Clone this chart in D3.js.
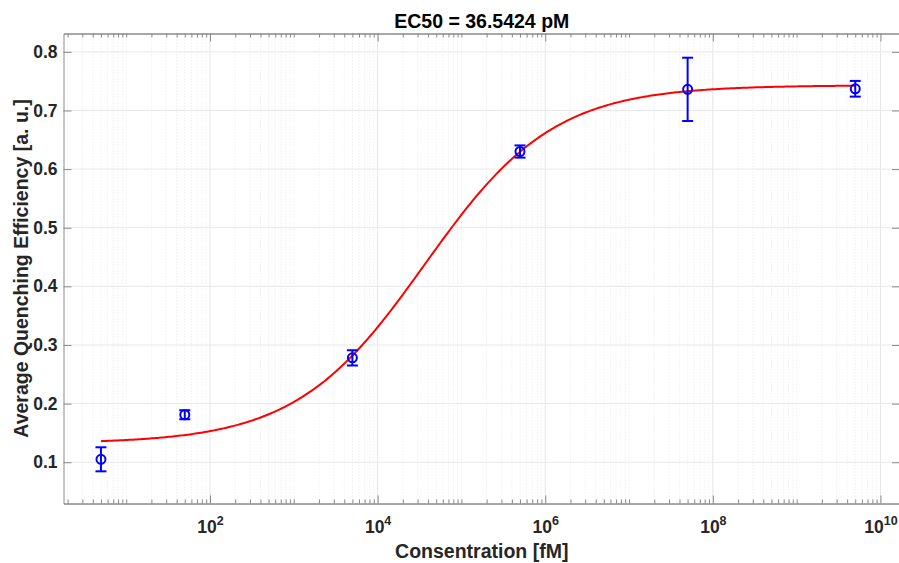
<!DOCTYPE html>
<html>
<head>
<meta charset="utf-8">
<script src="https://cdn.jsdelivr.net/npm/d3@7"></script>
<style>
  html, body { margin: 0; padding: 0; background: #fff; }
  svg { display: block; }
  text { font-family: "Liberation Sans", Arial, Helvetica, sans-serif; }
</style>
</head>
<body>
<svg id="chart" width="899" height="563"></svg>
<script>
// Measured dose-response points (concentration in fM)
const concentration = [5, 50, 5e3, 5e5, 5e7, 5e9];
const meanEfficiency = [0.105, 0.181, 0.278, 0.630, 0.736, 0.737];
const errEfficiency = [0.0205, 0.0077, 0.0130, 0.0104, 0.054, 0.0134];

// Four-parameter logistic fit
const fitBottom = 0.132;
const fitTop = 0.743;
const fitEC50 = 36542.4;   // fM  (36.5424 pM)
const fitHill = 0.565;

// Axis ticks
const yTicks = [0.1, 0.2, 0.3, 0.4, 0.5, 0.6, 0.7, 0.8];
const xMajorExp = [2, 4, 6, 8, 10];

const titleText = "EC50 = " + (fitEC50 / 1000).toFixed(4) + " pM";
const xLabelText = "Consentration [fM]";
const yLabelText = "Average Quenching Efficiency [a. u.]";

(function draw() {
  const svg = d3.select("#chart");
  const pLeft = 63.5, pRight = 900, pTop = 33.5, pBottom = 503.5;

  const x = d3.scaleLog()
    .domain([Math.pow(10, 0.252), Math.pow(10, 10.233)])
    .range([pLeft, pRight]);
  const y = d3.scaleLinear()
    .domain([0.0296, 0.8313])
    .range([pBottom, pTop]);

  // major / minor log tick positions
  const xMajor = xMajorExp.map(e => Math.pow(10, e));
  const xMinor = [];
  for (let e = 0; e <= 10; e++) {
    for (let m = 1; m <= 9; m++) {
      const v = m * Math.pow(10, e);
      if (v < x.domain()[0] || v > x.domain()[1]) continue;
      if (m === 1 && e % 2 === 0) continue;
      xMinor.push(v);
    }
  }

  // grid
  const grid = svg.append("g");
  grid.selectAll("line.minor").data(xMinor).join("line")
    .attr("class", "minor")
    .attr("x1", d => x(d)).attr("x2", d => x(d))
    .attr("y1", pTop).attr("y2", pBottom)
    .attr("stroke", "#e2e2e2").attr("stroke-width", 0.8)
    .attr("stroke-dasharray", "1,2");
  grid.selectAll("line.majx").data(xMajor).join("line")
    .attr("class", "majx")
    .attr("x1", d => x(d)).attr("x2", d => x(d))
    .attr("y1", pTop).attr("y2", pBottom)
    .attr("stroke", "#e6e6e6").attr("stroke-width", 1);
  grid.selectAll("line.majy").data(yTicks).join("line")
    .attr("class", "majy")
    .attr("x1", pLeft).attr("x2", pRight)
    .attr("y1", d => y(d)).attr("y2", d => y(d))
    .attr("stroke", "#e8e8e8").attr("stroke-width", 1);

  // axes
  const axisColor = "#8a8a8a";
  function styleAxis(g) {
    g.selectAll("path.domain").attr("stroke", axisColor);
    g.selectAll(".tick line").attr("stroke", axisColor);
  }
  const gBottom = svg.append("g").attr("transform", `translate(0,${pBottom})`)
    .call(d3.axisBottom(x).tickValues(xMajor).tickSize(-8).tickSizeOuter(0).tickFormat(""))
    .call(styleAxis);
  svg.append("g").attr("transform", `translate(0,${pBottom})`)
    .call(d3.axisBottom(x).tickValues(xMinor).tickSize(-4).tickSizeOuter(0).tickFormat(""))
    .call(styleAxis);
  svg.append("g").attr("transform", `translate(0,${pTop})`)
    .call(d3.axisTop(x).tickValues(xMajor).tickSize(-8).tickSizeOuter(0).tickFormat(""))
    .call(styleAxis);
  svg.append("g").attr("transform", `translate(0,${pTop})`)
    .call(d3.axisTop(x).tickValues(xMinor).tickSize(-4).tickSizeOuter(0).tickFormat(""))
    .call(styleAxis);
  const gLeft = svg.append("g").attr("transform", `translate(${pLeft},0)`)
    .call(d3.axisLeft(y).tickValues(yTicks).tickSize(-8).tickSizeOuter(0).tickPadding(6).tickFormat(d3.format(".1f")))
    .call(styleAxis);
  svg.append("g").attr("transform", `translate(${pRight},0)`)
    .call(d3.axisRight(y).tickValues(yTicks).tickSize(-8).tickSizeOuter(0).tickFormat(""))
    .call(styleAxis);

  gLeft.selectAll(".tick text")
    .attr("fill", "#262626").attr("font-size", "17.5px").attr("font-weight", "bold")
    .attr("font-family", "'Liberation Sans', Arial, sans-serif");

  // x tick labels as 10^k
  gBottom.selectAll(".tick text").remove();
  gBottom.selectAll(".tick").each(function (d) {
    const t = d3.select(this).append("text")
      .attr("y", 29.5).attr("text-anchor", "middle")
      .attr("fill", "#262626").attr("font-weight", "bold")
      .attr("font-family", "'Liberation Sans', Arial, sans-serif");
    t.append("tspan").attr("font-size", "17.5px").text("10");
    t.append("tspan").attr("font-size", "12.5px").attr("dy", -8).text(Math.round(Math.log10(d)));
  });

  // fitted curve
  const fitFn = c => fitBottom + (fitTop - fitBottom) / (1 + Math.pow(fitEC50 / c, fitHill));
  const logMin = Math.log10(concentration[0]);
  const logMax = Math.log10(concentration[concentration.length - 1]);
  const nSamples = 400;
  const curve = d3.range(nSamples + 1).map(i => {
    const c = Math.pow(10, logMin + (logMax - logMin) * i / nSamples);
    return [c, fitFn(c)];
  });
  svg.append("path").datum(curve)
    .attr("fill", "none").attr("stroke", "#ff0000").attr("stroke-width", 2)
    .attr("d", d3.line().x(d => x(d[0])).y(d => y(d[1])));

  // error bars + markers
  const pts = concentration.map((c, i) => ({ c, m: meanEfficiency[i], e: errEfficiency[i] }));
  const eb = svg.append("g").attr("stroke", "#0000ff").attr("stroke-width", 2).attr("fill", "none");
  const capHalf = 5.5;
  pts.forEach(p => {
    const cx = x(p.c);
    eb.append("line").attr("x1", cx).attr("x2", cx).attr("y1", y(p.m - p.e)).attr("y2", y(p.m + p.e));
    eb.append("line").attr("x1", cx - capHalf).attr("x2", cx + capHalf).attr("y1", y(p.m - p.e)).attr("y2", y(p.m - p.e));
    eb.append("line").attr("x1", cx - capHalf).attr("x2", cx + capHalf).attr("y1", y(p.m + p.e)).attr("y2", y(p.m + p.e));
    eb.append("circle").attr("cx", cx).attr("cy", y(p.m)).attr("r", 4.5);
  });

  // title and axis labels
  const midX = (pLeft + pRight) / 2;
  svg.append("text").attr("x", midX).attr("y", 27.5).attr("text-anchor", "middle")
    .attr("font-size", "19.5px").attr("font-weight", "bold").attr("fill", "#000")
    .text(titleText);
  svg.append("text").attr("x", midX).attr("y", 558).attr("text-anchor", "middle")
    .attr("font-size", "19.5px").attr("font-weight", "bold").attr("fill", "#262626")
    .text(xLabelText);
  svg.append("text")
    .attr("transform", `translate(28,${(pTop + pBottom) / 2}) rotate(-90)`)
    .attr("text-anchor", "middle")
    .attr("font-size", "19.5px").attr("font-weight", "bold").attr("fill", "#262626")
    .text(yLabelText);
})();
</script>
</body>
</html>
